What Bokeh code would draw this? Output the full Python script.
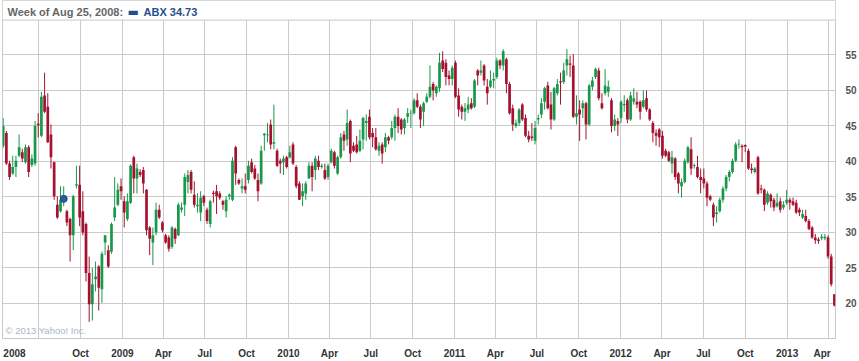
import pandas as pd
from bokeh.plotting import figure
from bokeh.models import (Range1d, FixedTicker, CustomJSTickFormatter, Label,
                          ColumnDataSource, BoxAnnotation, Span)
from bokeh.embed import file_html
from bokeh.resources import INLINE

# ---------------- data (weekly candles, ABX) ----------------
TICKER = "ABX"
START_WEEK = "2008-04-14"
HIGHLIGHT_INDEX = 19  # week of Aug 25, 2008

OPEN = [
    42.2, 44.0, 39.7, 38.3, 39.2, 40.8, 41.3, 39.9, 42.0, 39.5,
    39.7, 45.3, 43.6, 49.3, 47.7, 43.8, 39.9, 33.9, 33.0, 34.3,
    33.0, 31.9, 29.6, 36.6, 36.7, 33.0, 31.2, 24.3, 19.9, 23.4,
    25.2, 22.0, 28.6, 27.5, 27.3, 32.1, 33.9, 36.5, 34.4, 31.9,
    34.2, 40.6, 37.6, 38.5, 38.8, 36.0, 30.7, 28.6, 30.0, 33.2,
    31.4, 29.6, 29.3, 28.0, 30.5, 29.6, 33.2, 33.9, 37.1, 38.5,
    35.3, 33.7, 32.8, 35.1, 33.2, 31.2, 35.6, 35.8, 35.5, 34.4,
    33.0, 35.1, 34.6, 42.0, 37.4, 36.2, 36.5, 37.4, 39.9, 39.0,
    37.4, 36.9, 43.7, 43.7, 45.2, 42.5, 41.5, 40.1, 39.9, 40.6,
    40.6, 42.4, 39.2, 36.9, 35.1, 35.5, 37.6, 39.4, 38.8, 40.1,
    39.2, 38.8, 37.8, 39.9, 41.3, 38.3, 40.6, 43.8, 43.1, 45.7,
    42.2, 42.4, 41.5, 43.1, 45.4, 46.3, 44.0, 43.4, 41.5, 42.4,
    42.0, 43.4, 43.4, 44.7, 46.3, 45.9, 44.7, 46.3, 46.7, 46.8,
    48.6, 47.7, 47.0, 48.4, 49.1, 50.9, 49.6, 50.3, 54.2, 53.9,
    52.1, 51.6, 53.9, 49.3, 47.7, 47.0, 47.3, 48.2, 47.7, 52.8,
    52.5, 53.5, 50.5, 50.5, 51.4, 51.9, 54.2, 53.5, 54.4, 50.9,
    47.5, 45.0, 45.4, 48.0, 46.1, 43.6, 43.5, 42.9, 45.9, 46.6,
    48.4, 50.7, 48.0, 45.9, 49.6, 51.3, 51.2, 53.5, 53.8, 53.5,
    46.3, 47.3, 47.5, 48.2, 45.2, 50.5, 51.9, 52.8, 48.2, 49.6,
    49.8, 48.6, 45.0, 45.7, 46.1, 47.9, 48.6, 45.9, 48.4, 48.4,
    48.4, 47.7, 48.9, 47.3, 45.4, 44.0, 44.5, 43.6, 41.5, 41.3,
    39.7, 40.4, 38.3, 36.5, 37.1, 39.9, 41.7, 39.4, 39.2, 37.8,
    37.6, 36.9, 35.1, 33.9, 32.6, 33.0, 34.6, 36.2, 37.8, 38.5,
    40.1, 42.4, 42.2, 42.3, 41.5, 39.0, 38.5, 40.6, 36.2, 36.0,
    34.2, 35.3, 34.6, 33.7, 34.4, 33.5, 34.2, 34.6, 34.4, 34.2,
    33.2, 32.1, 32.3, 31.6, 30.7, 29.3, 29.0, 29.2, 29.2, 29.3,
    26.6, 21.3,
]
HIGH = [
    46.1, 44.3, 40.1, 40.8, 40.8, 43.8, 41.8, 42.4, 42.3, 41.0,
    45.7, 46.8, 49.8, 52.5, 49.6, 45.2, 40.0, 35.1, 36.5, 36.5,
    33.2, 32.1, 35.3, 39.4, 39.4, 35.8, 31.4, 26.6, 25.0, 25.9,
    25.4, 27.3, 29.6, 28.2, 31.4, 37.8, 36.9, 37.6, 35.1, 35.5,
    39.6, 40.8, 39.7, 38.9, 39.2, 36.1, 30.9, 30.7, 34.2, 33.9,
    31.6, 29.8, 29.6, 30.9, 30.7, 34.2, 34.2, 38.3, 38.8, 38.8,
    37.2, 35.5, 35.8, 35.3, 33.5, 34.6, 35.9, 36.7, 35.8, 34.6,
    35.1, 35.5, 40.6, 42.2, 37.6, 37.6, 38.3, 40.1, 40.4, 39.5,
    38.3, 42.2, 44.0, 45.4, 45.9, 48.0, 41.8, 40.4, 40.8, 40.8,
    42.2, 42.7, 39.5, 37.2, 36.9, 37.2, 39.9, 39.9, 40.8, 40.8,
    39.7, 39.7, 39.7, 41.8, 41.5, 40.8, 44.0, 44.3, 47.3, 45.9,
    42.7, 43.6, 44.5, 46.3, 46.6, 47.3, 44.7, 44.7, 42.7, 42.7,
    44.0, 43.6, 45.7, 46.6, 47.5, 46.1, 46.1, 47.5, 47.3, 48.9,
    49.6, 48.0, 48.4, 49.6, 53.5, 51.2, 50.7, 55.3, 55.5, 54.4,
    52.8, 53.5, 54.2, 50.3, 48.0, 48.2, 49.1, 48.9, 51.6, 53.0,
    54.2, 53.7, 51.6, 52.8, 52.5, 54.6, 54.4, 55.8, 54.6, 51.2,
    48.0, 45.9, 47.5, 48.2, 46.6, 44.3, 45.4, 45.7, 46.6, 48.9,
    50.5, 51.2, 49.8, 50.5, 51.6, 52.5, 53.9, 55.8, 54.9, 55.1,
    49.3, 48.6, 48.6, 48.4, 50.9, 51.9, 53.2, 53.2, 49.6, 53.0,
    51.4, 48.9, 46.6, 46.1, 48.6, 49.3, 48.9, 49.8, 50.3, 49.8,
    48.6, 50.0, 50.0, 47.5, 45.7, 44.5, 44.7, 44.3, 41.8, 41.5,
    41.5, 40.6, 38.5, 37.6, 40.4, 42.2, 43.4, 39.7, 40.8, 39.0,
    39.0, 37.2, 35.3, 34.2, 33.7, 34.9, 36.5, 38.1, 38.8, 40.4,
    42.7, 43.1, 42.4, 42.4, 41.8, 39.7, 39.2, 40.8, 36.7, 36.2,
    35.8, 35.5, 34.9, 35.5, 34.9, 34.4, 36.0, 34.9, 34.9, 34.6,
    33.5, 33.2, 33.2, 31.9, 30.9, 29.8, 29.3, 29.8, 29.8, 29.6,
    27.0, 21.3,
]
LOW = [
    41.9, 39.5, 37.4, 38.1, 37.8, 40.6, 39.9, 39.7, 37.8, 39.2,
    39.4, 43.4, 43.4, 46.8, 42.6, 39.0, 34.6, 31.9, 32.8, 33.7,
    30.9, 25.9, 27.5, 36.2, 30.9, 29.6, 23.1, 17.4, 17.6, 21.7,
    19.0, 20.1, 26.8, 25.0, 27.0, 31.6, 33.7, 34.6, 30.7, 31.6,
    34.0, 35.5, 35.5, 37.8, 35.5, 29.6, 26.8, 25.4, 29.6, 31.9,
    30.0, 28.4, 27.3, 27.7, 28.4, 29.5, 32.8, 32.3, 35.5, 35.5,
    33.5, 32.8, 31.6, 33.7, 31.2, 30.7, 34.2, 32.6, 34.6, 33.2,
    32.1, 34.6, 34.4, 36.7, 36.7, 35.5, 35.5, 36.9, 38.3, 37.4,
    34.4, 36.7, 41.5, 42.7, 41.7, 41.7, 39.2, 38.3, 38.1, 39.0,
    40.4, 39.5, 36.2, 34.6, 33.7, 34.6, 37.6, 35.8, 37.4, 38.8,
    39.0, 37.4, 37.4, 39.7, 39.0, 38.1, 40.4, 41.5, 42.2, 39.9,
    41.3, 41.1, 41.3, 41.7, 42.9, 43.1, 42.0, 41.5, 40.8, 39.7,
    41.3, 42.4, 43.1, 42.9, 44.0, 43.8, 43.8, 45.4, 44.7, 46.6,
    47.5, 44.7, 45.0, 48.2, 48.9, 48.6, 49.1, 49.8, 52.6, 50.7,
    50.7, 50.7, 48.9, 46.3, 45.9, 45.7, 46.8, 47.3, 47.5, 50.7,
    52.1, 50.7, 48.0, 50.3, 50.3, 51.6, 53.0, 52.8, 49.6, 46.6,
    44.3, 44.7, 45.0, 45.7, 43.4, 42.7, 42.9, 42.4, 45.2, 46.1,
    47.3, 47.3, 44.5, 45.7, 49.3, 48.0, 50.9, 52.1, 51.9, 46.1,
    45.2, 42.9, 46.1, 43.1, 45.0, 50.0, 51.6, 48.6, 47.3, 49.3,
    49.1, 44.1, 44.3, 43.6, 45.4, 47.0, 45.4, 45.7, 48.0, 47.5,
    45.9, 47.5, 47.0, 45.7, 42.7, 42.2, 42.0, 40.4, 40.6, 39.9,
    38.3, 37.4, 35.5, 34.9, 36.9, 39.7, 38.1, 39.0, 37.6, 35.5,
    36.2, 33.7, 34.4, 30.9, 31.4, 32.8, 34.2, 35.8, 37.2, 38.3,
    39.9, 41.8, 39.9, 41.3, 38.8, 38.3, 38.3, 35.3, 35.5, 33.0,
    33.9, 33.5, 33.0, 33.5, 32.8, 33.2, 33.9, 33.2, 33.7, 32.6,
    32.3, 31.9, 31.4, 30.3, 29.1, 28.4, 28.4, 28.9, 28.9, 26.3,
    22.4, 19.6,
]
CLOSE = [
    45.0, 39.7, 37.8, 39.2, 40.1, 42.0, 40.4, 42.0, 38.5, 40.4,
    45.0, 45.1, 49.1, 47.0, 42.7, 40.6, 35.1, 32.1, 34.6, 34.73,
    31.4, 29.6, 35.1, 36.8, 32.1, 30.0, 24.3, 19.9, 22.7, 23.8,
    22.2, 27.0, 29.6, 25.2, 31.2, 33.5, 36.0, 35.8, 32.8, 34.4,
    39.4, 37.6, 39.0, 38.1, 36.9, 30.3, 29.1, 29.6, 33.2, 32.1,
    30.3, 28.6, 27.7, 30.7, 29.1, 33.9, 33.5, 37.8, 38.1, 36.0,
    33.9, 33.9, 34.9, 34.2, 31.6, 34.4, 35.4, 35.1, 34.9, 33.9,
    34.6, 35.3, 40.1, 38.3, 36.9, 36.5, 36.0, 39.4, 38.5, 37.6,
    35.8, 41.5, 43.9, 43.8, 42.4, 42.7, 39.4, 39.7, 40.4, 39.2,
    41.3, 39.7, 36.5, 34.6, 35.8, 36.9, 39.4, 37.8, 40.4, 39.2,
    39.4, 37.6, 39.4, 41.5, 39.4, 40.6, 43.4, 42.9, 45.4, 41.1,
    41.5, 41.3, 42.9, 46.1, 45.7, 43.4, 43.4, 41.7, 42.2, 41.1,
    43.4, 42.9, 44.7, 46.3, 45.0, 44.5, 45.9, 46.8, 46.8, 48.6,
    47.7, 45.9, 48.2, 49.1, 50.5, 50.0, 50.5, 53.9, 53.0, 51.9,
    51.6, 53.2, 49.1, 47.3, 47.0, 47.5, 48.0, 47.5, 51.4, 52.1,
    52.8, 51.4, 49.6, 51.4, 51.6, 54.2, 53.5, 55.5, 50.9, 46.8,
    45.2, 45.4, 47.3, 45.9, 43.6, 43.1, 43.3, 44.7, 46.1, 48.2,
    50.3, 47.5, 45.9, 50.3, 50.9, 51.1, 52.8, 54.4, 53.6, 46.3,
    46.8, 46.6, 48.2, 45.2, 50.7, 51.4, 53.0, 48.9, 47.5, 50.7,
    50.5, 45.0, 45.9, 45.2, 48.4, 48.1, 45.9, 49.3, 48.9, 48.0,
    47.0, 48.6, 47.3, 45.9, 44.0, 43.6, 43.4, 40.8, 40.8, 40.1,
    40.6, 37.8, 36.9, 37.1, 40.1, 42.0, 39.0, 39.5, 37.8, 37.4,
    36.9, 34.9, 34.6, 32.1, 32.8, 34.6, 36.2, 37.8, 38.5, 40.1,
    42.4, 42.5, 42.0, 42.1, 39.0, 38.8, 39.0, 35.5, 36.0, 33.9,
    35.5, 34.4, 33.5, 34.2, 33.2, 33.9, 34.6, 34.2, 33.9, 32.8,
    32.8, 32.6, 31.6, 30.5, 29.3, 28.9, 28.8, 29.4, 29.4, 26.6,
    22.7, 19.7,
]

# quarter gridlines and their axis labels
GRID_DATES = [
    "2008-07-01", "2008-10-01", "2009-01-01", "2009-04-01", "2009-07-01",
    "2009-10-01", "2010-01-01", "2010-04-01", "2010-07-01", "2010-10-01",
    "2011-01-01", "2011-04-01", "2011-07-01", "2011-10-01", "2012-01-01",
    "2012-04-01", "2012-07-01", "2012-10-01", "2013-01-01", "2013-04-01",
]
TICK_LABELS = [
    "2008", "Oct", "2009", "Apr", "Jul", "Oct", "2010", "Apr", "Jul", "Oct",
    "2011", "Apr", "Jul", "Oct", "2012", "Apr", "Jul", "Oct", "2013", "Apr",
]
Y_TICKS = [20, 25, 30, 35, 40, 45, 50, 55]

# ---------------- build ----------------
def to_ms(t):
    return pd.Timestamp(t).value / 1e6

dates = pd.date_range(START_WEEK, periods=len(CLOSE), freq="7D")
xs = [to_ms(d) for d in dates]
WEEK = 7 * 86400000.0

GREEN = "#17984a"
RED = "#a5122f"
colors = [GREEN if c >= o else RED for o, c in zip(OPEN, CLOSE)]
src = ColumnDataSource(dict(
    x=xs, high=HIGH, low=LOW,
    top=[max(o, c) for o, c in zip(OPEN, CLOSE)],
    bottom=[min(o, c) for o, c in zip(OPEN, CLOSE)],
    color=colors,
))

W, H = 859, 361
BL, BR = 2, 21
HEADER_PX = 20          # header strip inside the top of the frame
PX_PER_UNIT = 7.25
frame_w = W - BL - BR
x0 = xs[0] - 0.22 * WEEK
x1 = xs[-1] + 0.34 * WEEK
ms_per_px = (x1 - x0) / frame_w
Y0, Y_TOP = 15.07, 59.9
Y1 = Y_TOP + HEADER_PX / PX_PER_UNIT

p = figure(width=W, height=H, x_axis_type="datetime", y_axis_location="right",
           x_range=Range1d(x0, x1), y_range=Range1d(Y0, Y1),
           output_backend="svg", toolbar_location=None,
           min_border_left=BL, min_border_right=BR, min_border_top=0,
           min_border_bottom=16)
p.background_fill_color = "white"
p.border_fill_color = "white"
p.outline_line_color = "#c8c8c8"

grid_ms = [to_ms(d) for d in GRID_DATES]
label_ms = list(grid_ms)
label_ms[0] = x0 + 12 * ms_per_px          # first label pinned at left edge
label_ms[-1] = grid_ms[-1] - 6 * ms_per_px  # last label kept inside frame

p.xaxis.ticker = FixedTicker(ticks=label_ms)
p.xaxis.formatter = CustomJSTickFormatter(args=dict(labels=TICK_LABELS),
                                          code="return labels[index];")
p.xgrid.ticker = FixedTicker(ticks=grid_ms)
p.yaxis.ticker = FixedTicker(ticks=Y_TICKS)
p.ygrid.ticker = FixedTicker(ticks=Y_TICKS)
for g in (p.xgrid, p.ygrid):
    g.grid_line_color = "#cbcbcb"
    g.grid_line_width = 1

for ax in (p.xaxis, p.yaxis):
    ax.axis_line_color = None
    ax.major_tick_line_color = None
    ax.minor_tick_line_color = None
    ax.major_label_text_font = "Liberation Sans"
    ax.major_label_text_font_size = "10px"
    ax.major_label_text_font_style = "bold"
p.xaxis.major_label_text_color = "#333333"
p.yaxis.major_label_text_color = "#555555"
p.xaxis.major_label_standoff = 3
p.yaxis.major_label_standoff = 4

p.segment(x0="x", y0="high", x1="x", y1="low", line_color="color",
          line_width=1, source=src)
p.vbar(x="x", width=0.85 * WEEK, top="top", bottom="bottom",
       fill_color="color", line_color=None, source=src)

p.scatter(x=[xs[HIGHLIGHT_INDEX]], y=[CLOSE[HIGHLIGHT_INDEX]], size=7,
          fill_color="#2b5c9c", line_color="#1f4a85")

# header strip: white cover over the grid, with a rule below it
p.add_layout(BoxAnnotation(bottom=Y_TOP, fill_color="white", fill_alpha=1.0,
                           line_color=None))
p.add_layout(Span(location=Y_TOP, dimension="width", line_color="#c8c8c8",
                  line_width=1))

hdate = dates[HIGHLIGHT_INDEX]
week_txt = "Week of %s %d, %d:" % (hdate.strftime("%b"), hdate.day, hdate.year)
val_txt = "%s %.2f" % (TICKER, CLOSE[HIGHLIGHT_INDEX])

hy = Y_TOP + 8.5 / PX_PER_UNIT
common = dict(y=hy, text_baseline="middle", text_font="Liberation Sans",
              text_font_size="11px", text_font_style="bold")
p.add_layout(Label(text=week_txt, x=x0, x_offset=5, text_color="#666666",
                   **common))
p.add_layout(Label(text="\u25ac", x=x0, y=hy, x_offset=125,
                   text_baseline="middle", text_font="DejaVu Sans",
                   text_font_size="12px", text_color="#1f4f8f"))
p.add_layout(Label(text=val_txt, x=x0, x_offset=141, text_color="#1f4f8f",
                   **common))
p.add_layout(Label(text="\u00a9 2013 Yahoo! Inc.", x=x0, y=Y0, x_offset=3,
                   y_offset=8, text_baseline="middle",
                   text_font="Liberation Sans", text_font_size="9.5px",
                   text_color="#a9b6c6"))

open("out.html", "w").write(file_html(p, INLINE))
